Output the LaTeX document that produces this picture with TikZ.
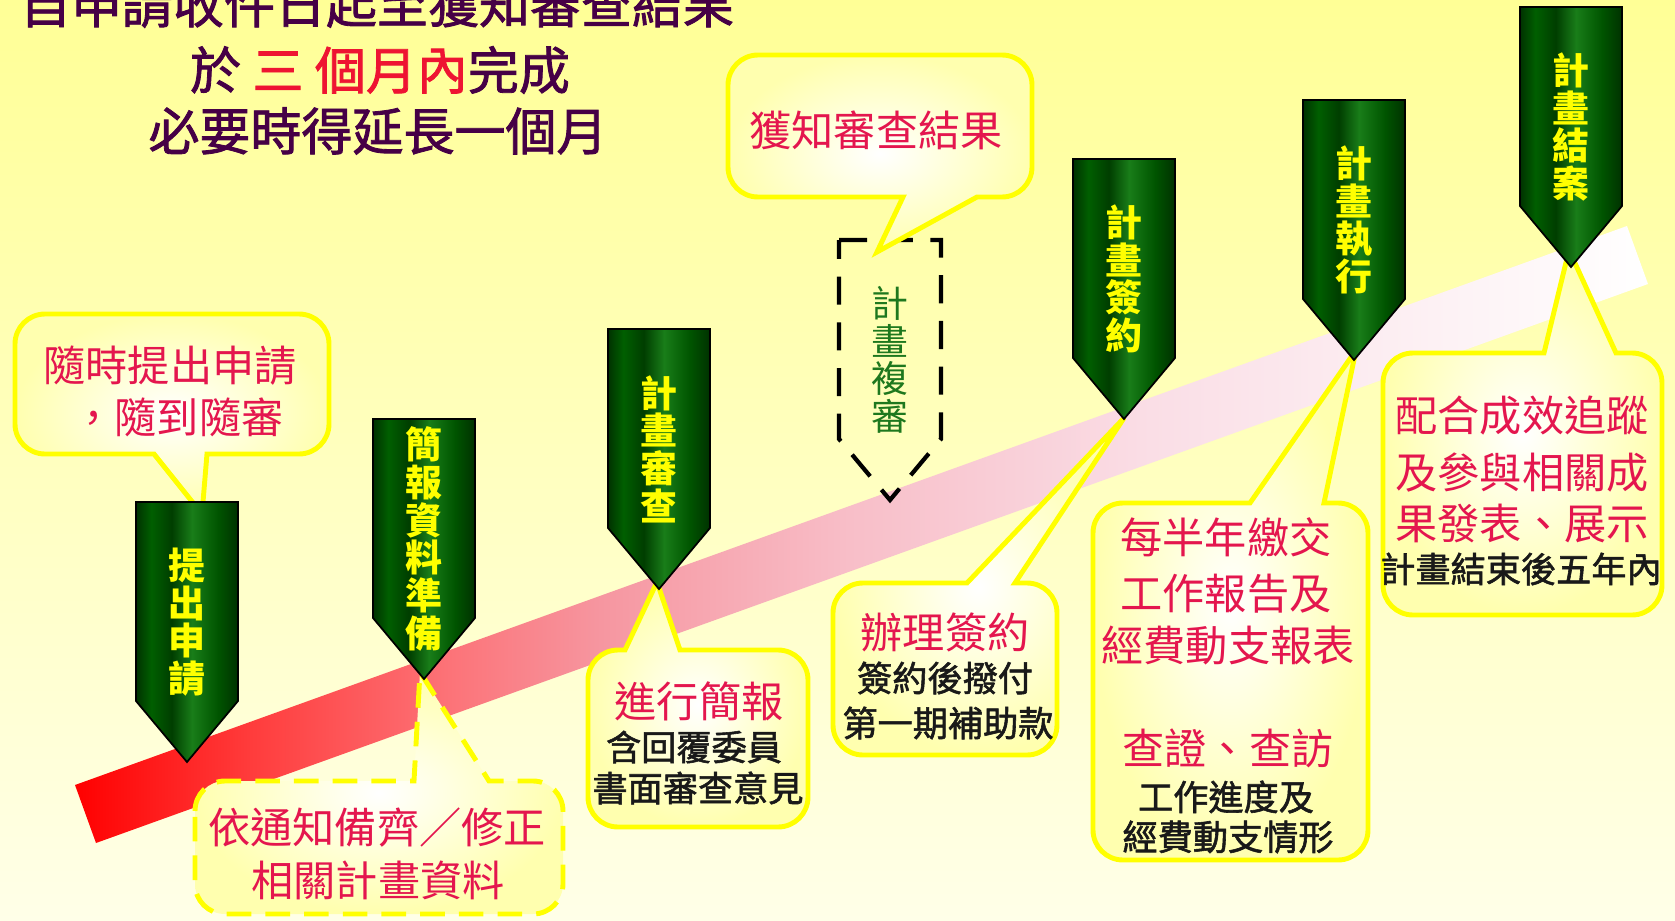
\documentclass[tikz,border=0pt]{standalone}
\usepackage{fontspec}
\newfontfamily\cjk{Noto Sans CJK TC}
\newfontfamily\cjkmid[FakeBold=1.6]{Noto Sans CJK TC}

\definecolor{bgtop}{RGB}{255,255,150}
\definecolor{bgbottom}{RGB}{255,255,232}
\definecolor{bubblefill}{RGB}{255,255,175}
\definecolor{bubbleline}{RGB}{255,255,0}
\definecolor{calloutred}{RGB}{228,22,78}
\definecolor{titlepurple}{RGB}{70,0,70}
\definecolor{titlered}{RGB}{238,20,50}
\definecolor{stageyellow}{RGB}{255,255,0}
\definecolor{reviewgreen}{RGB}{30,120,30}
\definecolor{noteblack}{RGB}{25,25,25}

\definecolor{bandA}{RGB}{255,0,0}
\definecolor{bandB}{RGB}{255,60,60}
\definecolor{bandC}{RGB}{252,115,120}
\definecolor{bandD}{RGB}{246,150,160}
\definecolor{bandE}{RGB}{248,190,200}
\definecolor{bandF}{RGB}{250,222,230}
\definecolor{bandG}{RGB}{253,242,245}
\pgfdeclarehorizontalshading{bandshade}{100bp}{color(0bp)=(bandA); color(25bp)=(bandA);
  color(30.6bp)=(bandB); color(36.9bp)=(bandC); color(41.7bp)=(bandD); color(49.6bp)=(bandE);
  color(59.2bp)=(bandF); color(68.7bp)=(bandG); color(75bp)=(white); color(100bp)=(white)}

\definecolor{stageA}{RGB}{0,50,0}
\definecolor{stageB}{RGB}{0,95,0}
\definecolor{stageC}{RGB}{0,62,0}
\definecolor{stageD}{RGB}{25,125,25}
\definecolor{stageE}{RGB}{0,85,0}
\pgfdeclarehorizontalshading{stageshade}{100bp}{color(0bp)=(stageA); color(25bp)=(stageA);
  color(32.5bp)=(stageB); color(42.5bp)=(stageC); color(52.5bp)=(stageD); color(65bp)=(stageE);
  color(75bp)=(stageA); color(100bp)=(stageA)}

% stage arrow: style, name, centre x, top y, text
\newcommand{\stagearrow}[5]{%
  \path[#1] ({#3-51},#4) -- ({#3+51},#4) -- ({#3+51},{#4+199}) -- (#3,{#4+260}) -- ({#3-51},{#4+199}) -- cycle;
  \node[#1 text] (#2) at (#3,{#4+120}) {#5};}
% callouts: style, x1, y1, x2, y2, pointer base from, to, tip x, tip y
\newcommand{\bubbletop}[9]{%
  \path[bubble,#1] (#2,{#3+30}) arc[start angle=180, end angle=270, radius=30] -- (#6,#3) -- (#8,#9) -- (#7,#3)
    -- ({#4-30},#3) arc[start angle=270, end angle=360, radius=30] -- (#4,{#5-30}) arc[start angle=0, end angle=90, radius=30]
    -- ({#2+30},#5) arc[start angle=90, end angle=180, radius=30] -- cycle;}
\newcommand{\bubblebottom}[9]{%
  \path[bubble,#1] (#2,{#3+30}) arc[start angle=180, end angle=270, radius=30] -- ({#4-30},#3)
    arc[start angle=270, end angle=360, radius=30] -- (#4,{#5-30}) arc[start angle=0, end angle=90, radius=30]
    -- (#7,#5) -- (#8,#9) -- (#6,#5) -- ({#2+30},#5) arc[start angle=90, end angle=180, radius=30] -- cycle;}

\tikzset{
    stage/.style={shade, shading=stageshade, draw=black, line width=0.5pt},
    stage text/.style={font=\cjk\bfseries\fontsize{10.5}{10.7}\selectfont, text=stageyellow, align=center, inner sep=0pt},
    review/.style={draw=black, line width=1.2pt, dash pattern=on 8pt off 5pt},
    review text/.style={font=\cjk\fontsize{10.5}{10.7}\selectfont, text=reviewgreen, align=center, inner sep=0pt},
    bubble/.style={draw=bubbleline, line width=1.4pt, inner color=white, outer color=bubblefill},
    notice/.style={dash pattern=on 7pt off 4pt},
    titletext/.style={font=\cjkmid\fontsize{14.5}{17}\selectfont, text=titlepurple, inner sep=0pt},
    redline/.style={font=\cjk\fontsize{12}{14}\selectfont, text=calloutred, inner sep=0pt},
    blackline/.style={font=\cjkmid\fontsize{10}{12}\selectfont, text=noteblack, inner sep=0pt}
}

\begin{document}
\begin{tikzpicture}[x=0.01cm, y=-0.01cm]
	\useasboundingbox (0,0) rectangle (1675,921);
	\clip (0,0) rectangle (1675,921);
	\fill[top color=bgtop, bottom color=bgbottom] (0,0) rectangle (1675,921);

	% rising band
	\path[shade, shading=bandshade] (75,785) -- (96,843) -- (1648,284) -- (1627,226) -- cycle;

	\node[titletext] (t1) at (377,4) {自申請收件日起至獲知審查結果};
	\node[titletext] (t2) at (380,70) {於 {\color{titlered}三 個月內}完成};
	\node[titletext] (t3) at (378,131) {必要時得延長一個月};

	\stagearrow{review}{a4}{890}{240}{計\\畫\\複\\審}

	% callouts
	\bubblebottom{}{15}{314}{329}{454}{154}{207}{202}{514}
	\bubblebottom{}{728}{55}{1032}{197}{903}{977}{877}{252}
	\bubbletop{notice}{195}{781}{563}{914}{414}{489}{420}{672}
	\bubbletop{}{588}{650}{808}{827}{625}{680}{657}{582}
	\bubbletop{}{833}{583}{1057}{755}{967}{1015}{1124}{418}
	\bubbletop{}{1093}{503}{1368}{860}{1250}{1324}{1356}{350}
	\bubbletop{}{1383}{353}{1662}{615}{1544}{1616}{1569}{250}

	\node[redline] (c1a) at (170,366) {隨時提出申請};
	\node[redline] (c1b) at (178,417) {，隨到隨審};
	\node[redline] (c7) at (876,130) {獲知審查結果};
	\node[redline] (c2a) at (377,828) {依通知備齊／修正};
	\node[redline] (c2b) at (378,880) {相關計畫資料};
	\node[redline] (c3a) at (699,701) {進行簡報};
	\node[blackline] (c3b) at (694,747) {含回覆委員};
	\node[blackline] (c3c) at (698,788) {書面審查意見};
	\node[redline] (c4a) at (945,632) {辦理簽約};
	\node[blackline] (c4b) at (945,678) {簽約後撥付};
	\node[blackline] (c4c) at (948,723) {第一期補助款};
	\node[redline] (c5a) at (1226,537) {每半年繳交};
	\node[redline] (c5b) at (1226,594) {工作報告及};
	\node[redline] (c5c) at (1228,646) {經費動支報表};
	\node[redline] (c5d) at (1228,748) {查證、查訪};
	\node[blackline] (c5e) at (1226,797) {工作進度及};
	\node[blackline] (c5f) at (1228,837) {經費動支情形};
	\node[redline] (c6a) at (1522,416) {配合成效追蹤};
	\node[redline] (c6b) at (1522,473) {及參與相關成};
	\node[redline] (c6c) at (1522,524) {果發表、展示};
	\node[blackline] (c6d) at (1521,569) {計畫結束後五年內};

	% stages
	\stagearrow{stage}{a1}{187}{502}{提\\出\\申\\請}
	\stagearrow{stage}{a2}{424}{419}{簡\\報\\資\\料\\準\\備}
	\stagearrow{stage}{a3}{659}{329}{計\\畫\\審\\查}
	\stagearrow{stage}{a5}{1124}{159}{計\\畫\\簽\\約}
	\stagearrow{stage}{a6}{1354}{100}{計\\畫\\執\\行}
	\stagearrow{stage}{a7}{1571}{7}{計\\畫\\結\\案}
\end{tikzpicture}
\end{document}
